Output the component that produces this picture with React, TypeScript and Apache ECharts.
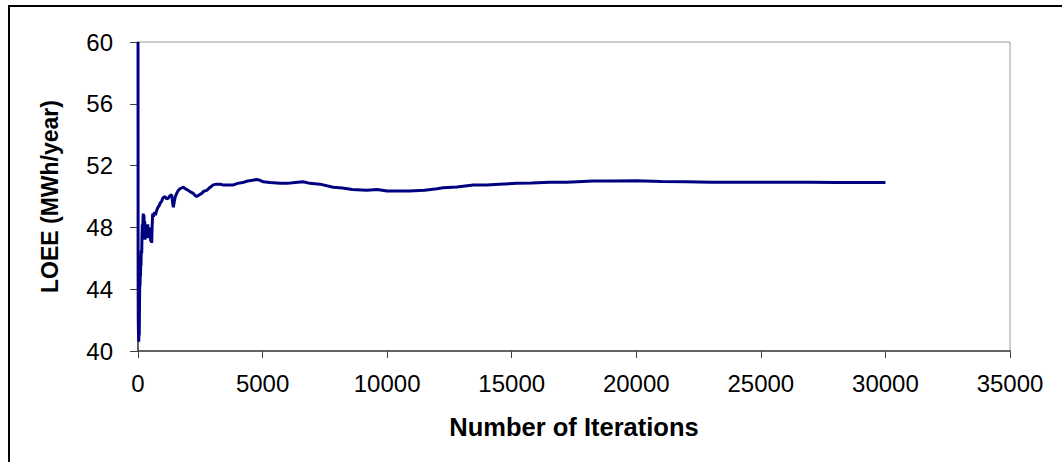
import React, { useEffect, useRef } from "react";
import * as echarts from "echarts";

const iterations: number[] = [
  1, 5, 10, 20, 30, 40, 50, 60, 70, 80, 90, 100, 110, 120, 130, 149, 160, 175, 190, 200,
  213, 225, 240, 255, 270, 281, 300, 320, 349, 370, 390, 413, 440, 460, 482, 510, 530, 550,
  565, 590, 620, 660, 700, 750, 800, 850, 900, 951, 1000, 1084, 1150, 1216, 1280, 1353,
  1390, 1417, 1460, 1500, 1553, 1620, 1686, 1750, 1818, 1900, 2019, 2100, 2220, 2300, 2356,
  2450, 2557, 2650, 2758, 2900, 3022, 3150, 3291, 3400, 3560, 3830, 4000, 4200, 4400, 4600,
  4760, 4900, 5030, 5300, 5700, 6000, 6300, 6630, 6900, 7300, 7840, 8200, 8600, 9180, 9600,
  10000, 10500, 10900, 11500, 12000, 12250, 12800, 13460, 14000, 14500, 15200, 15800, 16530,
  17200, 18270, 19000, 20000, 21000, 22000, 23000, 24000, 25000, 26000, 27000, 28000, 29000,
  30000,
];

const loee: number[] = [
  60, 45, 42, 41, 40.6, 41.5, 41, 43, 44.5, 44.2, 45, 44.8, 45.8, 45.5, 46.5, 46.3, 47.5,
  48.2, 47.6, 48.6, 48.9, 48.0, 48.8, 47.6, 48.4, 47.2, 48.1, 47.5, 48.0, 47.3, 48.2, 47.3,
  48.0, 47.4, 47.8, 47.1, 47.6, 47.0, 48.0, 48.9, 48.7, 49.0, 48.8, 49.1, 49.3, 49.4, 49.6,
  49.7, 49.9, 50.0, 49.85, 49.9, 50.05, 50.1, 49.6, 49.3, 49.7, 50.0, 50.2, 50.4, 50.5,
  50.55, 50.6, 50.5, 50.4, 50.3, 50.2, 50.05, 50.0, 50.1, 50.2, 50.35, 50.4, 50.6, 50.75,
  50.8, 50.8, 50.75, 50.75, 50.75, 50.85, 50.9, 51.0, 51.05, 51.1, 51.05, 50.95, 50.9,
  50.85, 50.85, 50.9, 50.95, 50.85, 50.8, 50.6, 50.55, 50.45, 50.4, 50.45, 50.35, 50.35,
  50.35, 50.4, 50.5, 50.57, 50.62, 50.75, 50.75, 50.8, 50.85, 50.88, 50.92, 50.92, 51.0,
  51.0, 51.02, 50.97, 50.95, 50.93, 50.93, 50.92, 50.92, 50.92, 50.9, 50.9, 50.9,
];

const xTitle = "Number of Iterations";
const yTitle = "LOEE (MWh/year)";

export default function App() {
  const ref = useRef<HTMLDivElement>(null);
  useEffect(() => {
    if (!ref.current) return;
    const chart = echarts.init(ref.current, undefined, { renderer: "svg" });
    const font = "'Liberation Sans', Arial, sans-serif";
    chart.setOption({
      animation: false,
      backgroundColor: "#ffffff",
      textStyle: { fontFamily: font },
      graphic: [
        {
          type: "rect",
          shape: { x: 9, y: 6, width: 1200, height: 600 },
          style: { fill: "none", stroke: "#000000", lineWidth: 2 },
          silent: true,
        },
      ],
      grid: {
        left: 138,
        top: 42,
        right: 52,
        bottom: 111,
        show: true,
        borderColor: "#9a9a9a",
        borderWidth: 1,
        backgroundColor: "transparent",
      },
      xAxis: {
        type: "value",
        min: 0,
        max: 35000,
        interval: 5000,
        name: xTitle,
        nameLocation: "middle",
        nameGap: 63,
        nameTextStyle: { fontFamily: font, fontSize: 25.5, fontWeight: "bold", color: "#000" },
        axisLine: { show: true, onZero: false, lineStyle: { color: "#404040", width: 1.5 } },
        axisTick: { show: true, inside: false, length: 7, lineStyle: { color: "#404040" } },
        axisLabel: {
          fontFamily: font,
          fontSize: 24,
          color: "#000",
          margin: 20,
          formatter: (v: number) => String(v),
        },
        splitLine: { show: false },
      },
      yAxis: {
        type: "value",
        min: 40,
        max: 60,
        interval: 4,
        name: yTitle,
        nameLocation: "middle",
        nameRotate: 90,
        nameGap: 77,
        nameTextStyle: { fontFamily: font, fontSize: 23, fontWeight: "bold", color: "#000" },
        axisLine: { show: true, onZero: false, lineStyle: { color: "#404040", width: 1.5 } },
        axisTick: { show: true, inside: false, length: 8, lineStyle: { color: "#404040" } },
        axisLabel: { fontFamily: font, fontSize: 24, color: "#000", margin: 25 },
        splitLine: { show: false },
      },
      series: [
        {
          type: "line",
          data: iterations.map((it, i) => [it, loee[i]]),
          showSymbol: false,
          symbol: "none",
          lineStyle: { color: "#000080", width: 3 },
          clip: true,
        },
      ],
    });
    return () => chart.dispose();
  }, []);
  return (
    <div
      ref={ref}
      style={{ position: "fixed", left: 0, top: 0, width: 1062, height: 462 }}
    />
  );
}
